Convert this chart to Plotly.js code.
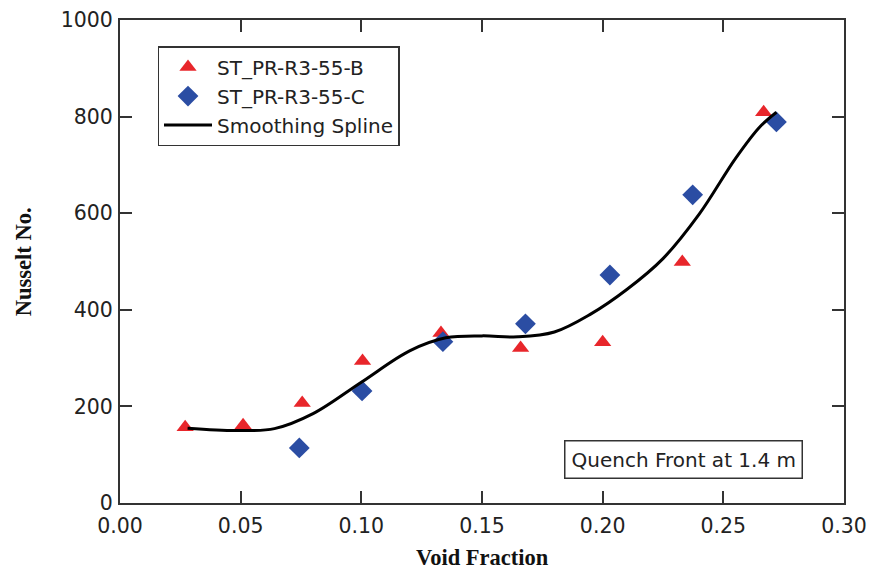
<!DOCTYPE html>
<html>
<head>
<meta charset="utf-8">
<script src="https://cdn.plot.ly/plotly-3.0.1.min.js"></script>
<style>html,body{margin:0;padding:0;background:#fff;}#chart{width:871px;height:574px;}</style>
</head>
<body>
<div id="chart"></div>
<script>
// Series B (red triangles)
const bVoid = [0.027, 0.051, 0.0755, 0.1005, 0.133, 0.166, 0.200, 0.233, 0.2667];
const bNu   = [157, 161, 207, 294, 352, 321, 333, 499, 809];
// Series C (blue diamonds)
const cVoid = [0.0743, 0.1003, 0.1338, 0.168, 0.203, 0.2373, 0.272];
const cNu   = [114, 232, 334, 371, 472, 638, 789];
// Smoothing spline
const sVoid = [0.028, 0.048, 0.064, 0.080, 0.100, 0.120, 0.135, 0.150, 0.165, 0.180, 0.195, 0.210, 0.225, 0.240, 0.255, 0.265, 0.272];
const sNu   = [155, 150, 154, 185, 250, 315, 342, 346, 344, 354, 391, 442, 506, 598, 713, 778, 809];

const names = ["ST_PR-R3-55-B", "ST_PR-R3-55-C", "Smoothing Spline"];
const xTicks = [0, 0.05, 0.10, 0.15, 0.20, 0.25, 0.30];
const xTickText = ["0.00", "0.05", "0.10", "0.15", "0.20", "0.25", "0.30"];
const yTicks = [0, 200, 400, 600, 800, 1000];

const traces = [
  {x: bVoid, y: bNu, name: names[0], mode: "markers", type: "scatter",
   marker: {symbol: "triangle-up", size: 15, color: "#e8262b"}},
  {x: cVoid, y: cNu, name: names[1], mode: "markers", type: "scatter",
   marker: {symbol: "diamond", size: 16, color: "#2b4da3"}},
  {x: sVoid, y: sNu, name: names[2], mode: "lines", type: "scatter",
   line: {shape: "spline", smoothing: 1, color: "#000", width: 3}}
];

const axisCommon = {
  showline: true, linecolor: "#333", linewidth: 2, mirror: "ticks",
  ticks: "inside", ticklen: 12, tickwidth: 2, tickcolor: "#333",
  showgrid: false, zeroline: false,
  tickfont: {family: "DejaVu Sans", size: 20.5, color: "#222"}
};

const layout = {
  width: 871, height: 574,
  margin: {l: 119.5, r: 27, t: 20, b: 71},
  paper_bgcolor: "#fff", plot_bgcolor: "#fff",
  showlegend: true,
  xaxis: Object.assign({}, axisCommon, {range: [0, 0.30], tickvals: xTicks, ticktext: xTickText, ticklabelstandoff: 3}),
  yaxis: Object.assign({}, axisCommon, {range: [0, 1000], tickvals: yTicks, ticklabelstandoff: 1}),
  legend: {x: 0.0518, y: 0.946, xanchor: "left", yanchor: "top",
    bordercolor: "#333", borderwidth: 1.5, bgcolor: "#fff", itemwidth: 48,
    font: {family: "DejaVu Sans", size: 20, color: "#222"}, tracegroupgap: 0},
  annotations: [
    {x: 0.2336, y: 91, xref: "x", yref: "y", text: "Quench Front at 1.4 m", showarrow: false,
     font: {family: "DejaVu Sans", size: 20, color: "#222"}, bordercolor: "#333", borderwidth: 1.5, borderpad: 6, bgcolor: "#fff"},
    {x: 0.5, y: -0.112, xref: "paper", yref: "paper", xanchor: "center", yanchor: "middle", showarrow: false,
     text: "<b>Void Fraction</b>", font: {family: "Liberation Serif", size: 22.5, color: "#111"}},
    {x: -0.133, y: 0.5, xref: "paper", yref: "paper", xanchor: "center", yanchor: "middle", showarrow: false, textangle: -90,
     text: "<b>Nusselt No.</b>", font: {family: "Liberation Serif", size: 22.5, color: "#111"}}
  ]
};

Plotly.newPlot("chart", traces, layout, {displayModeBar: false, staticPlot: true});
</script>
</body>
</html>
